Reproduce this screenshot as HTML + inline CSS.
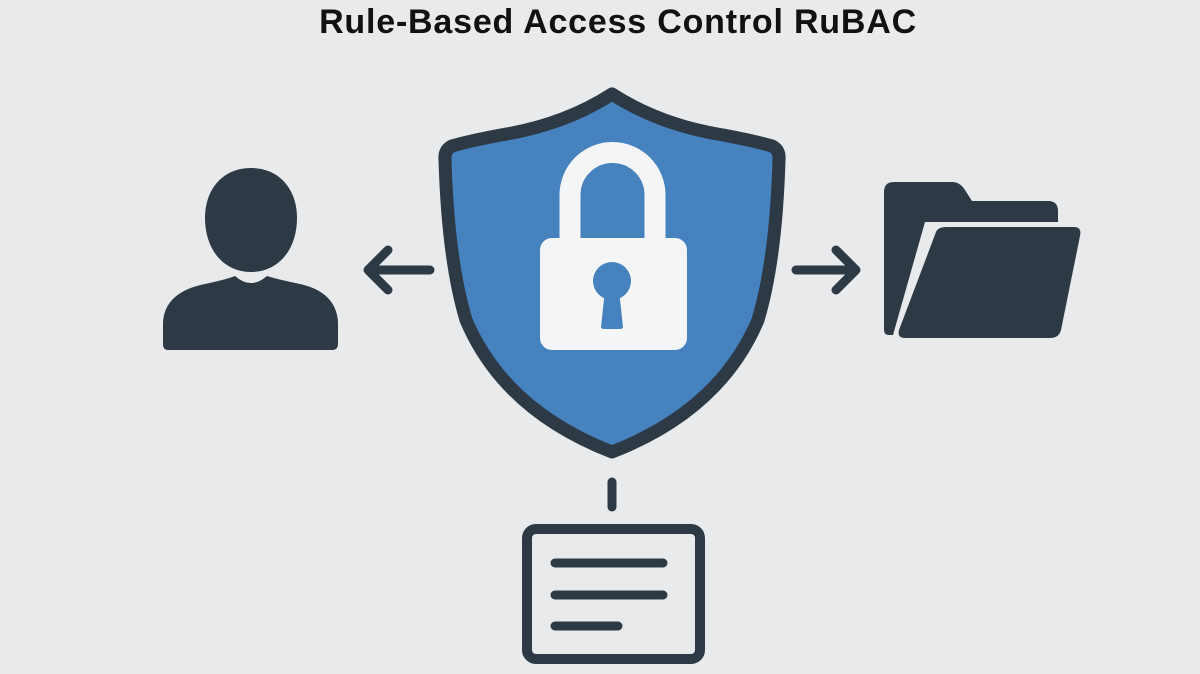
<!DOCTYPE html>
<html><head><style>
body{margin:0;width:1200px;height:674px;background:#e9eaec;overflow:hidden}
h1{position:absolute;top:0;left:18px;width:1200px;margin:0;text-align:center;font:bold 34px "Liberation Sans",sans-serif;letter-spacing:0.8px;color:#111;line-height:44px}
</style></head><body>
<h1>Rule-Based Access Control RuBAC</h1>
<svg width="1200" height="674" style="position:absolute;top:0;left:0">
<g fill="#2d3a46" stroke="#2d3a46" stroke-linecap="round" stroke-linejoin="round">
<path d="M251 168 C280 168 297 190 297 218 C297 250 278 272 251 272 C224 272 205 250 205 218 C205 190 222 168 251 168 Z" stroke="none"/>
<path d="M168 350 Q163 350 163 344 L163 322 Q165 292 205 284 Q228 279 235 276 Q251 290 267 276 Q276 279 300 284 Q336 292 338 322 L338 344 Q338 350 332 350 Z" stroke="none"/>
<path d="M430 270 H368 M388 250 L368 270 L388 290" fill="none" stroke-width="9"/>
<path d="M796 270 H856 M836 250 L856 270 L836 290" fill="none" stroke-width="9"/>
<path d="M884 192 Q884 182 894 182 L952 182 Q960 182 965 190 L972 201 L1048 201 Q1058 201 1058 211 L1058 222 L925 222 L893 335 L889 335 Q884 335 884 330 Z" stroke="none"/>
<path d="M936 232 Q938 227 946 227 L1074 227 Q1082 227 1080 236 L1061 330 Q1059 338 1050 338 L905 338 Q897 338 899 330 Z" stroke="none"/>
<path d="M612 482 V507" stroke-width="9" fill="none"/>
<rect x="527" y="529" width="173" height="130" rx="9" fill="none" stroke-width="10"/>
<path d="M555 563 H663 M555 595 H663 M555 626 H618" stroke-width="9" fill="none"/>
</g>
<path d="M612 94 Q660 125 723 135 Q755 141 772 146 Q780 150 779 160 Q776 260 758 320 Q720 410 612 452 Q504 410 466 320 Q448 260 445 160 Q444 150 452 146 Q469 141 501 135 Q564 125 612 94 Z" fill="#4682be" stroke="#2d3a46" stroke-width="13" stroke-linejoin="round"/>
<path d="M570 240 V195 A42 42 0 0 1 655 195 V240" fill="none" stroke="#f4f5f6" stroke-width="21"/>
<rect x="540" y="238" width="147" height="112" rx="12" fill="#f4f5f6"/>
<circle cx="612" cy="281" r="19" fill="#4682be"/>
<path d="M605 290 L619 290 L623 327 Q623 329 620 329 L604 329 Q601 329 601 327 Z" fill="#4682be"/>
</svg>
</body></html>
